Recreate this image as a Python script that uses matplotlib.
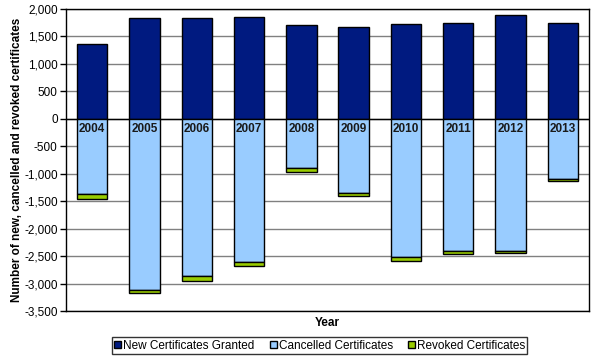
import matplotlib
matplotlib.use("Agg")
import matplotlib.pyplot as plt
from matplotlib.ticker import FuncFormatter, MultipleLocator

years = ["2004", "2005", "2006", "2007", "2008", "2009", "2010", "2011", "2012", "2013"]
new_granted = [1365, 1835, 1835, 1860, 1715, 1670, 1730, 1750, 1895, 1750]
cancelled = [-1375, -3125, -2865, -2615, -900, -1350, -2515, -2410, -2410, -1095]
revoked = [-85, -55, -95, -70, -70, -60, -80, -55, -40, -45]

plt.rcParams['font.family'] = ['Liberation Sans', 'DejaVu Sans']

fig = plt.figure(figsize=(5.98, 3.60), dpi=100)
ax = fig.add_axes([66/598, 1-311/360, (589-66)/598, (311-9)/360])

x = list(range(len(years)))
w = 0.58
ax.bar(x, new_granted, w, color='#001A80', edgecolor='black', linewidth=1, label='New Certificates Granted', zorder=3)
ax.bar(x, cancelled, w, color='#99CCFF', edgecolor='black', linewidth=1, label='Cancelled Certificates', zorder=3)
ax.bar(x, revoked, w, bottom=cancelled, color='#99CC00', edgecolor='black', linewidth=1, label='Revoked Certificates', zorder=3)

for xi, y in zip(x, years):
    ax.text(xi, -80, y, ha='center', va='top', fontsize=8.5, fontweight='bold', color='#1a1a1a', zorder=4)

ax.set_xlim(-0.5, len(years) - 0.5)
ax.set_ylim(-3500, 2000)
ax.yaxis.set_major_locator(MultipleLocator(500))
ax.yaxis.set_major_formatter(FuncFormatter(lambda v, p: f"{int(v):,}"))
ax.grid(axis='y', color='#808080', linewidth=1, zorder=0)
ax.axhline(0, color='black', linewidth=1, zorder=2)
ax.set_xticks([])
ax.tick_params(axis='y', labelsize=8.5, length=4, direction='out', width=1, pad=2)
for s in ax.spines.values():
    s.set_linewidth(1)
    s.set_color('black')

ax.set_xlabel('Year', fontsize=8.5, fontweight='bold', labelpad=4)
ax.set_ylabel('Number of new, cancelled and revoked certificates', fontsize=8.5, fontweight='bold', labelpad=1)

leg = ax.legend(loc='upper center', bbox_to_anchor=(0.485, -0.068), ncol=3, fontsize=8.5,
                frameon=True, fancybox=False, edgecolor='black', handlelength=0.6, handleheight=0.6,
                handletextpad=0.15, columnspacing=1.3, borderpad=0.2)
leg.get_frame().set_linewidth(1)

fig.savefig('out.png', dpi=100)
